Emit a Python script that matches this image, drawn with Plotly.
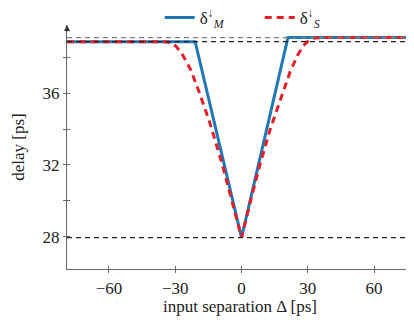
import plotly.graph_objects as go

# data
x_m = [-79, -21, 0, 21, 78]
y_m = [38.87, 38.87, 27.95, 39.1, 39.1]

x_s = [-79, -35, -32, -29.5, -26.5, -23, -19, -14.5, -9, -4.5, 0,
       4.5, 8.5, 13, 17.5, 22, 25.5, 28, 30.5, 33, 36, 78]
y_s = [38.87, 38.87, 38.82, 38.6, 38.1, 37.3, 36.0, 34.4, 32.15, 30.1, 27.95,
       30.2, 32.1, 34.0, 35.65, 37.2, 38.15, 38.65, 38.95, 39.07, 39.1, 39.1]

ref_levels_upper = [39.1]
ref_levels_lower = [38.87, 27.95]

x_ticks = [-60, -30, 0, 30, 60]
y_ticks = [28, 32, 36]
y_minor = [30, 34, 38]

x_range = [-79, 77.6]
y_range = [26.2, 39.8]

FONT = "Liberation Serif"
BLUE = "#1f78b4"
RED = "#e3202a"
AX = "#666666"

fig = go.Figure()
fig.add_trace(go.Scatter(x=x_m, y=y_m, mode="lines", name="δ<sup>↓</sup><sub><i>M</i></sub>",
                         line=dict(color=BLUE, width=3)))
fig.add_trace(go.Scatter(x=x_s, y=y_s, mode="lines", name="δ<sup>↓</sup><sub><i>S</i></sub>",
                         line=dict(color=RED, width=3, dash="7px,5px")))

for v in ref_levels_upper:
    fig.add_hline(y=v, line=dict(color="#808080", width=1.2, dash="5px,4px"), layer="above")
for v in ref_levels_lower:
    fig.add_hline(y=v, line=dict(color="#222222", width=1.2, dash="5px,4px"), layer="above")

common = dict(showgrid=False, zeroline=False, showline=True, linecolor=AX, linewidth=1.2,
              tickcolor=AX, ticklen=3, tickwidth=1, tickfont=dict(family=FONT, size=17, color="#222"))

# page has an 8px body margin, so the figure is sized to fit the 414x327 window
fig.update_layout(
    width=406, height=319,
    margin=dict(l=59, r=1, t=17, b=58, autoexpand=False),
    paper_bgcolor="white", plot_bgcolor="white",
    font=dict(family=FONT, size=17, color="#222"),
    showlegend=True,
    legend=dict(orientation="h", x=0.268, xanchor="left", y=1.029,
                yanchor="middle", entrywidth=55, entrywidthmode="pixels",
                bgcolor="rgba(0,0,0,0)", borderwidth=0, tracegroupgap=0,
                font=dict(family=FONT, size=17)),
    xaxis=dict(range=x_range, tickvals=x_ticks, ticks="outside",
               title=dict(text="input separation Δ [ps]", font=dict(family=FONT, size=17), standoff=2),
               **common),
    yaxis=dict(range=y_range, tickvals=y_ticks, ticks="outside",
               minor=dict(tickvals=y_minor, ticks="outside", ticklen=3, tickcolor=AX),
               title=dict(text="delay [ps]", font=dict(family=FONT, size=17), standoff=13),
               **common),
    xaxis2=dict(range=x_range, overlaying="x", side="bottom", tickvals=x_ticks, ticks="inside",
                ticklen=3, tickcolor=AX, showticklabels=False, showgrid=False, zeroline=False,
                showline=False),
    yaxis2=dict(range=y_range, overlaying="y", side="left", tickvals=y_ticks, ticks="inside",
                ticklen=3, tickcolor=AX, showticklabels=False, showgrid=False, zeroline=False,
                showline=False,
                minor=dict(tickvals=y_minor, ticks="inside", ticklen=3, tickcolor=AX)),
)
# invisible trace to activate overlay axes
fig.add_trace(go.Scatter(x=[x_range[0]], y=[y_range[0]], xaxis="x2", yaxis="y2", mode="markers",
                         marker=dict(opacity=0), showlegend=False, hoverinfo="skip"))

# axis arrows
fig.add_annotation(x=1, y=0, xref="paper", yref="paper", ax=-8, ay=0, showarrow=True,
                   arrowhead=2, arrowsize=1, arrowwidth=1.2, arrowcolor="#333", text="")
fig.add_annotation(x=0, y=1, xref="paper", yref="paper", ax=0, ay=8, showarrow=True,
                   arrowhead=2, arrowsize=1, arrowwidth=1.2, arrowcolor="#333", text="")

fig.write_html("out.html")
